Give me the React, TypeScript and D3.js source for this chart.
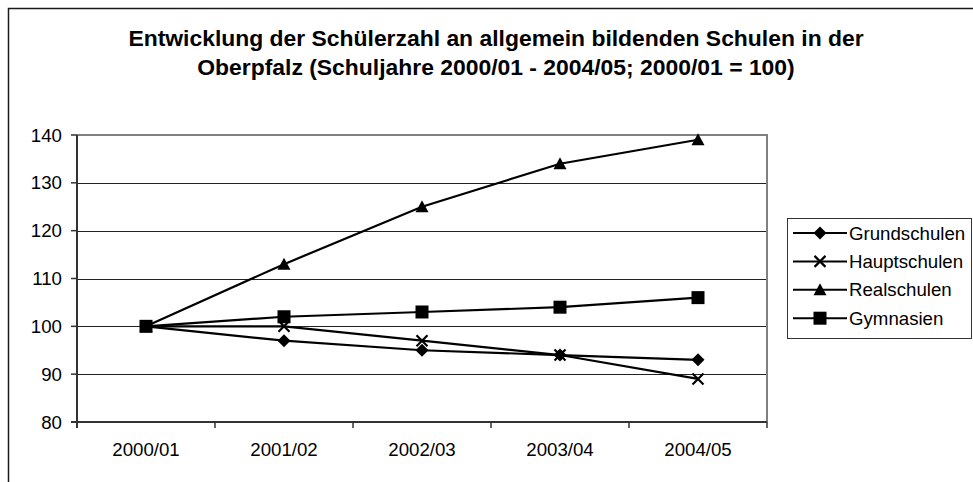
import { useEffect, useRef } from 'react';
import * as d3 from 'd3';

const years = ['2000/01', '2001/02', '2002/03', '2003/04', '2004/05'];
const grundschulen = [100, 97, 95, 94, 93];
const hauptschulen = [100, 100, 97, 94, 89];
const realschulen = [100, 113, 125, 134, 139];
const gymnasien = [100, 102, 103, 104, 106];
const yTicks = [80, 90, 100, 110, 120, 130, 140];
const titleLines = [
  'Entwicklung der Schülerzahl an allgemein bildenden Schulen in der',
  'Oberpfalz (Schuljahre 2000/01 - 2004/05; 2000/01 = 100)',
];

interface Series {
  name: string
  values: number[]
  marker: 'diamond' | 'x' | 'triangle' | 'square'
}

const series: Series[] = [
  { name: 'Grundschulen', values: grundschulen, marker: 'diamond' },
  { name: 'Hauptschulen', values: hauptschulen, marker: 'x' },
  { name: 'Realschulen', values: realschulen, marker: 'triangle' },
  { name: 'Gymnasien', values: gymnasien, marker: 'square' },
];

const font = 'Arial, "Liberation Sans", sans-serif';

// draws one Excel-like marker into a selection
const drawMarker = (g: d3.Selection<SVGGElement, unknown, null, undefined>, kind: string, cx: number, cy: number) => {
  if (kind === 'diamond') {
    const r = 6.5;
    g.append('path')
      .attr('d', `M${cx},${cy - r}L${cx + r},${cy}L${cx},${cy + r}L${cx - r},${cy}Z`)
      .attr('fill', 'black');
  } else if (kind === 'square') {
    const r = 6.5;
    g.append('rect')
      .attr('x', cx - r).attr('y', cy - r)
      .attr('width', r * 2).attr('height', r * 2)
      .attr('fill', 'black');
  } else if (kind === 'triangle') {
    const w = 6.5;
    g.append('path')
      .attr('d', `M${cx},${cy - 6.5}L${cx + w},${cy + 5.5}L${cx - w},${cy + 5.5}Z`)
      .attr('fill', 'black');
  } else {
    const r = 5.5;
    g.append('path')
      .attr('d', `M${cx - r},${cy - r}L${cx + r},${cy + r}M${cx + r},${cy - r}L${cx - r},${cy + r}`)
      .attr('stroke', 'black')
      .attr('stroke-width', 2.2)
      .attr('fill', 'none');
  }
};

const LineChart = (): JSX.Element => {
  const svgRef = useRef<SVGSVGElement>(null);

  useEffect(() => {
    const width = 973;
    const height = 482;
    const plot = { left: 77, right: 767, top: 135, bottom: 422 };

    const svg = d3.select(svgRef.current);
    svg.selectAll('*').remove();

    svg.append('rect')
      .attr('width', width).attr('height', height)
      .attr('fill', 'white');

    // outer chart border, clipped on the right and bottom like the reference
    svg.append('rect')
      .attr('x', 8.5).attr('y', 8.5)
      .attr('width', 976).attr('height', 490)
      .attr('fill', 'none')
      .attr('stroke', '#1a1a1a')
      .attr('stroke-width', 1.5);

    svg.append('g')
      .selectAll('text')
      .data(titleLines)
      .enter()
      .append('text')
      .attr('x', 496)
      .attr('y', (_d, i) => 46 + i * 29)
      .attr('text-anchor', 'middle')
      .attr('font-family', font)
      .attr('font-weight', 'bold')
      .attr('font-size', '22.9px')
      .attr('fill', 'black')
      .text(d => d);

    const x = d3.scaleBand<string>().domain(years).range([plot.left, plot.right]).paddingInner(0).paddingOuter(0);
    const y = d3.scaleLinear().domain([80, 140]).range([plot.bottom, plot.top]);
    const cx = (c: string) => (x(c) ?? 0) + x.bandwidth() / 2;

    // gridlines
    svg.append('g')
      .selectAll('line')
      .data(yTicks.filter(t => t > 80 && t < 140))
      .enter()
      .append('line')
      .attr('x1', plot.left).attr('x2', plot.right)
      .attr('y1', d => Math.round(y(d)) + 0.5)
      .attr('y2', d => Math.round(y(d)) + 0.5)
      .attr('stroke', '#222')
      .attr('stroke-width', 1);

    // plot border (top + right) in grey
    svg.append('path')
      .attr('d', `M${plot.left},${plot.top}H${plot.right}V${plot.bottom}`)
      .attr('fill', 'none')
      .attr('stroke', '#808080')
      .attr('stroke-width', 2);

    // y axis
    const yAxis = svg.append('g');
    yAxis.selectAll('line')
      .data(yTicks)
      .enter()
      .append('line')
      .attr('x1', plot.left - 6).attr('x2', plot.left)
      .attr('y1', d => y(d)).attr('y2', d => y(d))
      .attr('stroke', '#333')
      .attr('stroke-width', 1.5);
    yAxis.selectAll('text')
      .data(yTicks)
      .enter()
      .append('text')
      .attr('x', plot.left - 15)
      .attr('y', d => y(d) + 6.5)
      .attr('text-anchor', 'end')
      .attr('font-family', font)
      .attr('font-size', '18.67px')
      .attr('fill', 'black')
      .text(d => d);
    yAxis.append('line')
      .attr('x1', plot.left).attr('x2', plot.left)
      .attr('y1', plot.top).attr('y2', plot.bottom + 6)
      .attr('stroke', '#333')
      .attr('stroke-width', 2);

    // x axis
    const xAxis = svg.append('g');
    xAxis.append('line')
      .attr('x1', plot.left - 6).attr('x2', plot.right)
      .attr('y1', plot.bottom).attr('y2', plot.bottom)
      .attr('stroke', '#333')
      .attr('stroke-width', 2);
    xAxis.selectAll('line.tick')
      .data(years.slice(1))
      .enter()
      .append('line')
      .attr('class', 'tick')
      .attr('x1', d => x(d) ?? 0).attr('x2', d => x(d) ?? 0)
      .attr('y1', plot.bottom).attr('y2', plot.bottom + 6)
      .attr('stroke', '#333')
      .attr('stroke-width', 1.5);
    xAxis.append('line')
      .attr('x1', plot.right).attr('x2', plot.right)
      .attr('y1', plot.bottom).attr('y2', plot.bottom + 6)
      .attr('stroke', '#333')
      .attr('stroke-width', 1.5);
    xAxis.selectAll('text')
      .data(years)
      .enter()
      .append('text')
      .attr('x', d => cx(d))
      .attr('y', 456)
      .attr('text-anchor', 'middle')
      .attr('font-family', font)
      .attr('font-size', '18.67px')
      .attr('fill', 'black')
      .text(d => d);

    // series lines
    const line = d3.line<number>()
      .x((_d, i) => cx(years[i]))
      .y(d => y(d));

    series.forEach(s => {
      const g = svg.append('g');
      g.append('path')
        .attr('d', line(s.values))
        .attr('fill', 'none')
        .attr('stroke', 'black')
        .attr('stroke-width', 2.2);
      s.values.forEach((v, i) => drawMarker(g, s.marker, cx(years[i]), y(v)));
    });

    // legend
    const legend = svg.append('g');
    legend.append('rect')
      .attr('x', 787.5).attr('y', 218.5)
      .attr('width', 184).attr('height', 120)
      .attr('fill', 'white')
      .attr('stroke', '#333')
      .attr('stroke-width', 1);
    series.forEach((s, i) => {
      const ly = 233 + i * 28.4;
      const g = legend.append('g');
      g.append('line')
        .attr('x1', 793).attr('x2', 847)
        .attr('y1', ly).attr('y2', ly)
        .attr('stroke', 'black')
        .attr('stroke-width', 2);
      drawMarker(g, s.marker, 820, ly);
      g.append('text')
        .attr('x', 849)
        .attr('y', ly + 6.5)
        .attr('font-family', font)
        .attr('font-size', '18.67px')
        .attr('fill', 'black')
        .text(s.name);
    });
  }, []);

  return (
    <div style={{ position: 'absolute', left: 0, top: 0 }}>
      <svg ref={svgRef} width={973} height={482} style={{ display: 'block' }}></svg>
    </div>
  );
};

export default LineChart;
